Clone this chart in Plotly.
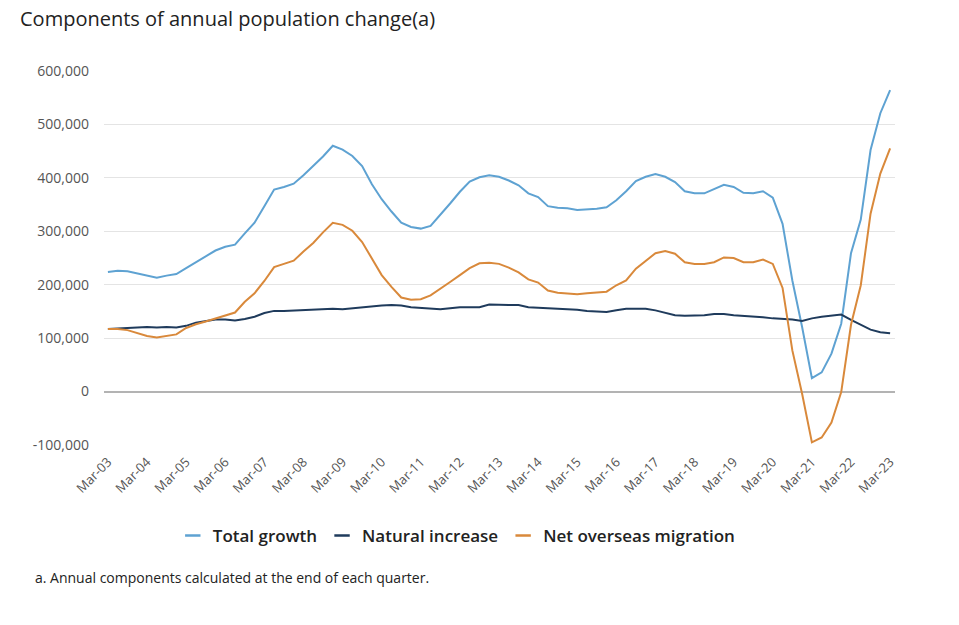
import plotly.graph_objects as go

# Quarterly labels Mar-03 ... Mar-23 (81 quarters)
months = ["Mar", "Jun", "Sep", "Dec"]
quarters = [f"{months[i % 4]}-{(3 + i // 4) % 100:02d}" for i in range(81)]
tick_labels = ["Mar-03", "Mar-04", "Mar-05", "Mar-06", "Mar-07", "Mar-08", "Mar-09",
               "Mar-10", "Mar-11", "Mar-12", "Mar-13", "Mar-14", "Mar-15", "Mar-16",
               "Mar-17", "Mar-18", "Mar-19", "Mar-20", "Mar-21", "Mar-22", "Mar-23"]

# values in thousands
total_growth = [224, 226, 225, 221, 217, 213, 217, 220, 231, 242, 253, 264, 271, 275, 296, 316,
                347, 378, 383, 389, 405, 422, 440, 460, 453, 441, 422, 388, 360, 337, 316, 308,
                305, 310, 330, 352, 374, 393, 401, 405, 402, 395, 386, 371, 364, 347, 344, 343,
                340, 341, 342, 345, 358, 375, 394, 402, 407, 402, 392, 375, 371, 371, 379, 387,
                383, 372, 371, 375, 363, 314, 208, 121, 25, 36, 71, 127, 259, 322, 452, 521, 564]

natural_increase = [117, 118, 119, 120, 121, 120, 121, 120, 123, 129, 132, 135, 135, 133, 136, 140,
                    147, 151, 151, 152, 153, 154, 155, 155, 154, 156, 158, 159, 161, 162, 161, 158,
                    157, 155, 154, 156, 158, 158, 158, 163, 162, 162, 162, 158, 157, 156, 155, 155,
                    153, 151, 150, 149, 152, 155, 155, 155, 152, 148, 143, 142, 142, 143, 145, 145,
                    143, 142, 141, 139, 137, 136, 135, 132, 137, 140, 142, 144, 134, 125, 116, 111, 109]

net_overseas = [117, 117, 115, 110, 104, 101, 104, 107, 119, 126, 131, 137, 143, 148, 168, 184,
                207, 233, 239, 245, 262, 278, 298, 316, 312, 301, 280, 249, 218, 196, 176, 172,
                173, 180, 192, 205, 218, 231, 240, 241, 239, 232, 223, 210, 204, 189, 185, 183,
                182, 184, 185, 187, 199, 208, 230, 245, 259, 263, 258, 242, 239, 239, 242, 251,
                250, 242, 242, 247, 239, 194, 77, -4, -95, -86, -58, -1, 125, 199, 333, 408, 455]

series_names = ["Total growth", "Natural increase", "Net overseas migration"]
colors = ["#5ea2d2", "#1f3b5c", "#d9893b"]

y_tickvals = [-100000, 0, 100000, 200000, 300000, 400000, 500000, 600000]
y_ticktext = ["-100,000", "0", "100,000", "200,000", "300,000", "400,000", "500,000", "600,000"]

FONT = "Open Sans"
x_idx = list(range(len(quarters)))

fig = go.Figure()
for name, vals, col in zip(series_names, [total_growth, natural_increase, net_overseas], colors):
    fig.add_trace(go.Scatter(
        x=x_idx, y=[v * 1000 for v in vals], mode="lines", name=name,
        line=dict(color=col, width=2), showlegend=False,
        customdata=quarters, hovertemplate="%{customdata}: %{y:,}<extra>" + name + "</extra>"))
    fig.add_trace(go.Scatter(
        x=[None], y=[None], mode="markers", name=name,
        marker=dict(symbol="line-ew-open", size=11, color=col, line=dict(color=col, width=2.5)),
        showlegend=True))

W, H = 959, 625
PL, PR, PT, PB = 104, 895, 71, 445  # plot area in page coordinates (body margin removed)
pw, ph = PR - PL, PB - PT

fig.update_layout(
    width=W, height=H,
    paper_bgcolor="white", plot_bgcolor="white",
    margin=dict(l=PL, r=W - PR, t=PT, b=H - PB),
    font=dict(family=FONT, color="#444"),
    title=dict(text="Components of annual population change(a)",
               x=20 / W, xanchor="left", y=1 - 19 / H, yanchor="middle",
               font=dict(family=FONT, size=20, color="#222")),
    showlegend=True,
    legend=dict(orientation="h", x=0.446, xanchor="center", y=(PB - 536) / ph, yanchor="middle",
                font=dict(family=FONT, size=17, color="#222", weight=600),
                itemwidth=30, tracegroupgap=0),
    annotations=[dict(text="a. Annual components calculated at the end of each quarter.",
                      xref="paper", yref="paper", x=(33 - PL) / pw, xanchor="left",
                      y=(PB - 577) / ph, yanchor="middle", showarrow=False,
                      font=dict(family=FONT, size=14, color="#222"))],
)

fig.update_xaxes(
    range=[-0.4, 80.5], tickmode="array", tickvals=list(range(0, 81, 4)), ticktext=tick_labels,
    tickangle=-45, tickfont=dict(family=FONT, size=13, color="#555"),
    showgrid=False, zeroline=False, showline=False, ticks="", ticklabelstandoff=6)
fig.update_yaxes(
    range=[-100000, 600000], tickmode="array", tickvals=y_tickvals, ticktext=y_ticktext,
    tickfont=dict(family=FONT, size=14, color="#555"),
    showgrid=True, gridcolor="#e4e4e4", gridwidth=1,
    zeroline=True, zerolinecolor="#b3b3b3", zerolinewidth=2,
    showline=False, ticks="", ticklabelstandoff=14)

fig.write_html("out.html", config={"displayModeBar": False},
               post_script="document.body.style.margin='0';")
